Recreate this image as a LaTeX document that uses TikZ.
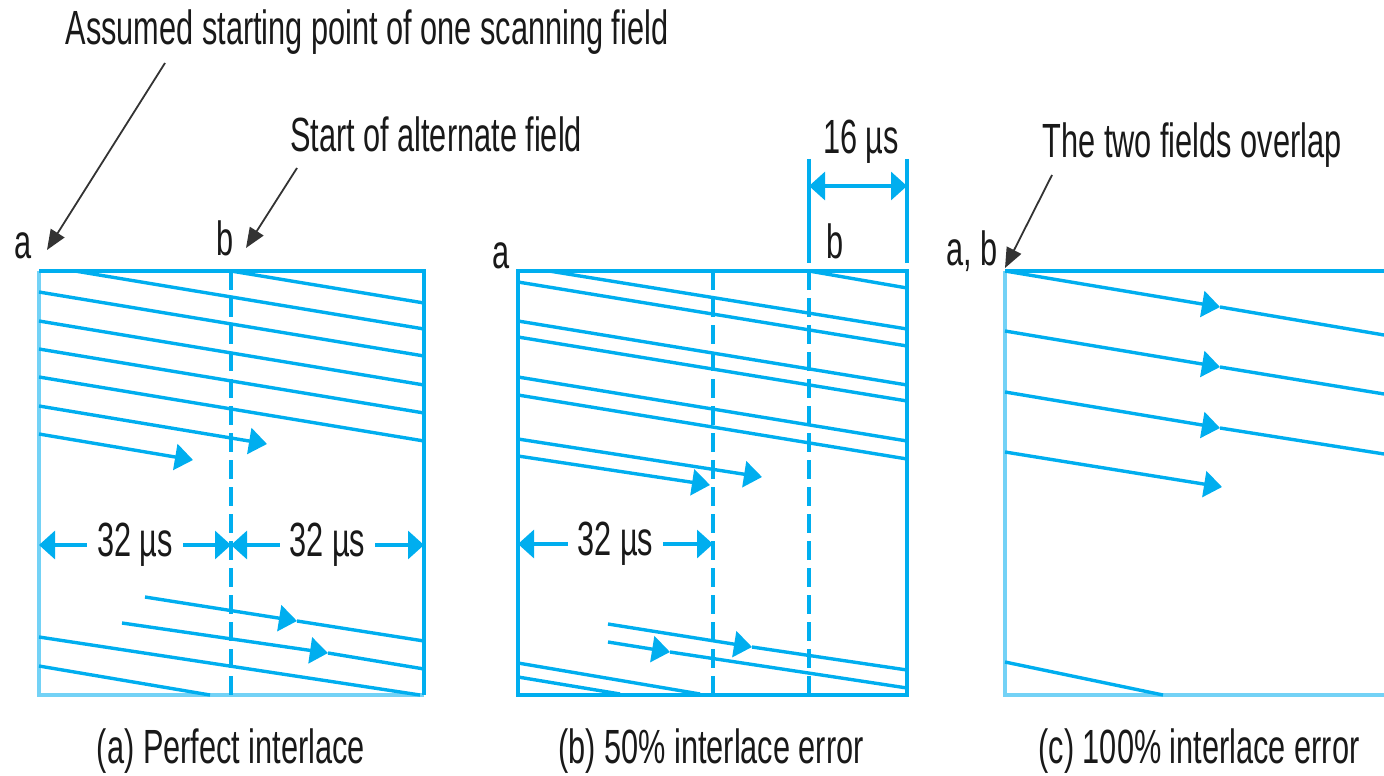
\documentclass[tikz,border=0pt]{standalone}
\usepackage{fontspec}
\setmainfont{Liberation Sans}[FakeStretch=0.64]
\usetikzlibrary{arrows.meta}
\definecolor{scanblue}{HTML}{00AEEF}
\newcommand{\lblfont}{\fontsize{24}{28}\selectfont}
\tikzset{>=Stealth,
  frame/.style={draw=scanblue, line width=1.7pt},
  frameedge/.style={draw=scanblue!55, line width=1.7pt},
  scan/.style={draw=scanblue, line width=1.7pt},
  scantip/.style={scan, -{Triangle[length=9pt,width=13pt]}},
  divider/.style={draw=scanblue, line width=1.6pt, dash pattern=on 9.5pt off 4pt},
  dim/.style={draw=scanblue, line width=1.6pt, {Triangle[length=8pt,width=14pt]}-{Triangle[length=8pt,width=14pt]}},
  pointer/.style={draw=black!80, line width=0.9pt, -{Triangle[length=10pt,width=8pt]}},
  lbl/.style={font=\lblfont, text=black!90, inner sep=0pt},
  dimlbl/.style={lbl, fill=white, inner xsep=5pt}}
\begin{document}
\begin{tikzpicture}[x=0.5pt, y=-0.5pt]
  \useasboundingbox (0,0) rectangle (1384,775);

  \node[lbl, anchor=base] (tstart) at (367,45) {Assumed starting point of one scanning field};
  \node[lbl, anchor=base] (talt) at (436,152) {Start of alternate field};
  \node[lbl, anchor=base] (tover) at (1192,158) {The two fields overlap};

  % (a) perfect interlace
  \draw[frameedge] (39,271) -- (39,695) -- (424,695);
  \draw[frame] (39,271) -- (424,271) -- (424,695);
  \draw[divider] (231,271) -- (231,695);
  \draw[scan] (75,271) -- (424,329);
  \draw[scan] (231,271) -- (424,303);
  \foreach \y in {292,321,349,377}
    \draw[scan] (39,\y) -- ++(385,64);
  \draw[scantip] (39,406) -- (267,444);
  \draw[scantip] (39,434) -- (193,460);
  \draw[scantip] (145,597) -- (297,621);
  \draw[scan] (297,621) -- (424,641);
  \draw[scantip] (122,623) -- (328,653);
  \draw[scan] (328,653) -- (424,669);
  \draw[scan] (39,637) -- (420,695);
  \draw[scan] (39,666) -- (210,695);
  \coordinate (aL) at (39,545);
  \coordinate (aM) at (231,545);
  \coordinate (aR) at (424,545);
  \draw[dim] (aL) -- node[dimlbl] {32\,µs} (aM);
  \draw[dim] (aM) -- node[dimlbl] {32\,µs} (aR);
  \node[lbl, anchor=base] (la) at (23,258) {a};
  \node[lbl, anchor=base] (lb) at (225,255) {b};
  \coordinate (pa) at (165,63);
  \coordinate (ta) at (47,250);
  \coordinate (pb) at (297,168);
  \coordinate (tb) at (246,248);
  \draw[pointer] (pa) -- (ta);
  \draw[pointer] (pb) -- (tb);
  \node[lbl, anchor=base] (capa) at (231,763) {(a) Perfect interlace};

  % (b) 50% error
  \draw[frame] (518,271) rectangle (907,695);
  \draw[divider] (713,271) -- (713,695);
  \draw[divider] (809,271) -- (809,695);
  \draw[scan] (549,271) -- (907,329);
  \draw[scan] (809,271) -- (907,288);
  \foreach \y in {282,321,337,377,395}
    \draw[scan] (518,\y) -- ++(389,64);
  \draw[scantip] (518,439) -- (762,477);
  \draw[scantip] (518,456) -- (710,485);
  \draw[scantip] (608,624) -- (752,647);
  \draw[scan] (752,647) -- (907,670);
  \draw[scantip] (608,642) -- (670,652);
  \draw[scan] (670,652) -- (907,688);
  \draw[scan] (518,663) -- (700,694);
  \draw[scan] (518,677) -- (620,694);
  \coordinate (bL) at (518,544);
  \coordinate (bM) at (713,544);
  \draw[dim] (bL) -- node[dimlbl] {32\,µs} (bM);
  \draw[frame] (809,159) -- (809,263);
  \draw[frame] (907,159) -- (907,263);
  \coordinate (sL) at (809,186);
  \coordinate (sR) at (907,186);
  \draw[dim] (sL) -- (sR);
  \node[lbl, anchor=base] (t16) at (861,154) {16\,µs};
  \node[lbl, anchor=base] (la2) at (501,268) {a};
  \node[lbl, anchor=base] (lb2) at (835,258) {b};
  \node[lbl, anchor=base] (capb) at (711,763) {(b) 50\% interlace error};

  % (c) 100% error
  \draw[frameedge] (1005,271) -- (1005,695) -- (1384,695);
  \draw[frame] (1005,271) -- (1384,271);
  \foreach \y/\t/\e in {271/307/335, 331/367/394, 392/428/454}{
    \draw[scantip] (1005,\y) -- (1220,\t);
    \draw[scan] (1220,\t) -- (1384,\e);
  }
  \draw[scantip] (1005,452) -- (1222,487);
  \draw[scan] (1005,662) -- (1163,695);
  \node[lbl, anchor=base] (lab) at (972,265) {a, b};
  \coordinate (pc) at (1052,175);
  \coordinate (tc) at (1005,268);
  \draw[pointer] (pc) -- (tc);
  \node[lbl, anchor=base] (capc) at (1199,763) {(c) 100\% interlace error};
\end{tikzpicture}
\end{document}
